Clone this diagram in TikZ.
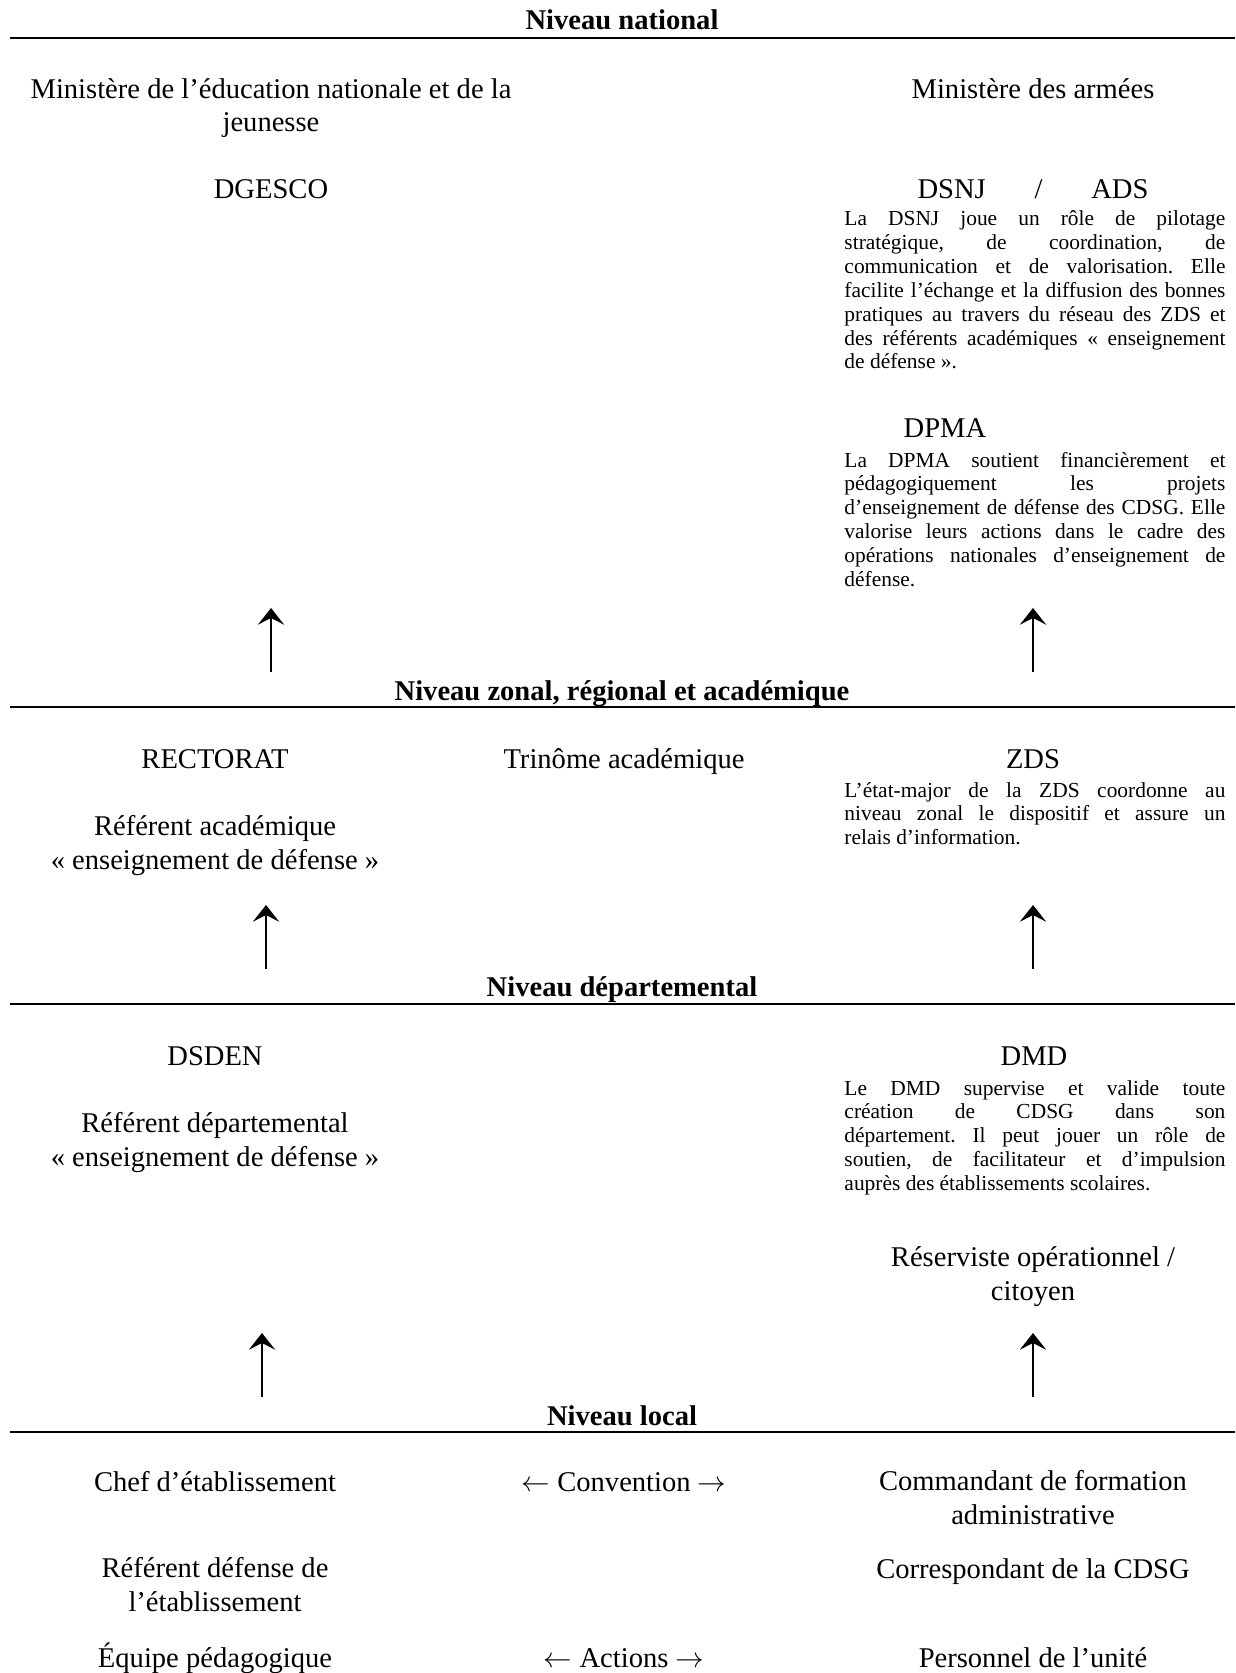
\documentclass[tikz,border=0pt]{standalone}
\usepackage{fontspec}
\setmainfont{Liberation Serif}
\usepackage{tikz}
\usetikzlibrary{arrows.meta}
\tolerance=10000
\hyphenpenalty=10000
\emergencystretch=20pt
\frenchspacing

\begin{document}
\begin{tikzpicture}[x=0.42pt, y=-0.42pt]
  \tikzstyle{every node}=[inner sep=0pt, font=\fontsize{12}{13.9}\selectfont]
  \tikzstyle{level}=[anchor=base, font=\fontsize{12}{13.9}\selectfont\bfseries]
  \tikzstyle{entity}=[anchor=base, align=center]
  \tikzstyle{para}=[anchor=base west, text width=160pt, align=justify, font=\fontsize{9}{10}\selectfont]
  \tikzstyle{rule}=[line width=0.9pt]
  \tikzstyle{up}=[line width=1.15pt, -{Stealth[length=7pt, width=11pt, inset=2.8pt]}]
  \useasboundingbox (0,0) rectangle (1235,1673);

  % niveau national
  \node[level] (national) at (622,30) {Niveau national};
  \coordinate (r1w) at (10,38);
  \coordinate (r1e) at (1235,38);
  \draw[rule] (r1w) -- (r1e);
  % two-line nodes: the base is the last line
  \node[entity] (men) at (271,132) {Ministère de l’éducation nationale et de la\\jeunesse};
  \node[entity] (armees) at (1033,99) {Ministère des armées};
  \node[entity] (dgesco) at (271,199) {DGESCO};
  \node[entity] (dsnj) at (1033,199) {\makebox[97pt][s]{DSNJ / ADS}};
  \node[para] (dsnjtxt) at (844,226) {La DSNJ joue un rôle de pilotage\linebreak
    stratégique, de coordination, de\linebreak
    communication et de valorisation. Elle\linebreak
    facilite l’échange et la diffusion des bonnes\linebreak
    pratiques au travers du réseau des ZDS et\linebreak
    des référents académiques «~enseignement\linebreak
    de défense~».};
  \node[entity] (dpma) at (945,437) {DPMA};
  \node[para] (dpmatxt) at (844,467) {La DPMA soutient financièrement et\linebreak
    pédagogiquement les projets\linebreak
    d’enseignement de défense des CDSG. Elle\linebreak
    valorise leurs actions dans le cadre des\linebreak
    opérations nationales d’enseignement de\linebreak
    défense.};
  \coordinate (u1l) at (271,672);
  \coordinate (t1l) at (271,608);
  \coordinate (u1r) at (1033,672);
  \coordinate (t1r) at (1033,608);
  \draw[up] (u1l) -- (t1l);
  \draw[up] (u1r) -- (t1r);

  % niveau zonal, regional et academique
  \node[level] (zonal) at (622,700) {Niveau zonal, régional et académique};
  \coordinate (r2w) at (10,707);
  \coordinate (r2e) at (1235,707);
  \draw[rule] (r2w) -- (r2e);
  \node[entity] (rectorat) at (215,768) {RECTORAT};
  \node[entity] (trinome) at (624,768) {Trinôme académique};
  \node[entity] (zds) at (1033,768) {ZDS};
  \node[para] (zdstxt) at (844,797) {L’état-major de la ZDS coordonne au\linebreak
    niveau zonal le dispositif et assure un\linebreak
    relais d’information.};
  \node[entity] (refaca) at (215,869) {Référent académique\\«~enseignement de défense~»};
  \coordinate (u2l) at (266,969);
  \coordinate (t2l) at (266,905);
  \coordinate (u2r) at (1033,969);
  \coordinate (t2r) at (1033,905);
  \draw[up] (u2l) -- (t2l);
  \draw[up] (u2r) -- (t2r);

  % niveau departemental
  \node[level] (dep) at (622,996) {Niveau départemental};
  \coordinate (r3w) at (10,1004);
  \coordinate (r3e) at (1235,1004);
  \draw[rule] (r3w) -- (r3e);
  \node[entity] (dsden) at (215,1065) {DSDEN};
  \node[entity] (dmd) at (1034,1065) {DMD};
  \node[para] (dmdtxt) at (844,1095) {Le DMD supervise et valide toute\linebreak
    création de CDSG dans son\linebreak
    département. Il peut jouer un rôle de\linebreak
    soutien, de facilitateur et d’impulsion\linebreak
    auprès des établissements scolaires.};
  \node[entity] (refdep) at (215,1166) {Référent départemental\\«~enseignement de défense~»};
  \node[entity] (reserv) at (1033,1300) {Réserviste opérationnel /\\citoyen};
  \coordinate (u3l) at (262,1397);
  \coordinate (t3l) at (262,1333);
  \coordinate (u3r) at (1033,1397);
  \coordinate (t3r) at (1033,1333);
  \draw[up] (u3l) -- (t3l);
  \draw[up] (u3r) -- (t3r);

  % niveau local
  \node[level] (local) at (622,1425) {Niveau local};
  \coordinate (r4w) at (10,1432);
  \coordinate (r4e) at (1235,1432);
  \draw[rule] (r4w) -- (r4e);
  \node[entity] (chef) at (215,1491) {Chef d’établissement};
  \node[entity] (convention) at (624,1491) {$\leftarrow$ Convention $\rightarrow$};
  \node[entity] (cdt) at (1033,1524) {Commandant de formation\\administrative};
  \node[entity] (refdef) at (215,1611) {Référent défense de\\l’établissement};
  \node[entity] (corresp) at (1033,1578) {Correspondant de la CDSG};
  \node[entity] (equipe) at (215,1667) {Équipe pédagogique};
  \node[entity] (actions) at (624,1667) {$\leftarrow$ Actions $\rightarrow$};
  \node[entity] (personnel) at (1033,1667) {Personnel de l’unité};
\end{tikzpicture}
\end{document}
